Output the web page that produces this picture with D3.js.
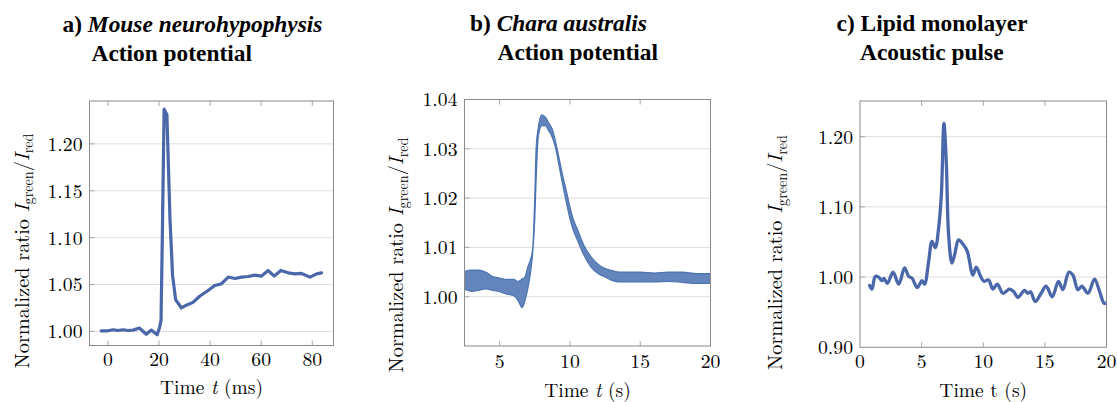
<!DOCTYPE html>
<html>
<head>
<meta charset="utf-8">
<script src="https://cdn.jsdelivr.net/npm/d3@7"></script>
<style>
  html, body { margin: 0; padding: 0; background: #fff; }
  svg { display: block; }
</style>
</head>
<body>
<svg id="chart" width="1117" height="402" font-family="'Latin Modern Roman', 'Liberation Serif', serif"></svg>
<script>
// ---------------- data ----------------
// a) Mouse neurohypophysis, action potential
const aTime  = [-2.6, 0, 2, 3.9, 5.9, 7.8, 9.8, 12.4, 15, 17, 19.3, 20.3, 20.8, 21.3, 22.0, 23.1, 24.3, 25.3, 26.5, 28.8, 30.7, 33.3, 35.9, 39.2, 41.8, 44.4, 47.1, 49.7, 52.3, 54.9, 57.5, 60.1, 62.7, 65.1, 67.7, 70.6, 73.2, 75.8, 79.1, 81.7, 83.6];
const aRatio = [1.0007, 1.0007, 1.0018, 1.001, 1.0018, 1.001, 1.0014, 1.0036, 0.997, 1.0014, 0.9964, 1.005, 1.012, 1.10, 1.237, 1.231, 1.12, 1.06, 1.034, 1.025, 1.028, 1.031, 1.0375, 1.0436, 1.049, 1.0507, 1.058, 1.0564, 1.0579, 1.0586, 1.060, 1.059, 1.065, 1.059, 1.065, 1.0625, 1.0614, 1.0618, 1.0579, 1.0614, 1.0625];
const aXTicks = [0, 20, 40, 60, 80];
const aYTicks = [1.00, 1.05, 1.10, 1.15, 1.20];

// b) Chara australis, action potential (noisy trace: lower / upper envelope)
const bTime  = [2.5, 2.6, 3.0, 3.5, 4.0, 4.5, 5.0, 5.5, 6.0, 6.3, 6.6, 6.8, 7.0, 7.2, 7.35, 7.5, 7.6, 7.75, 8.0, 8.25, 8.5, 8.75, 9.0, 9.25, 9.5, 9.75, 10.0, 10.25, 10.5, 11.0, 11.5, 12.0, 12.5, 13.0, 13.5, 14.0, 15.0, 16.0, 17.0, 18.0, 19.0, 20.0];
const bUpper = [1.0048, 1.0052, 1.0054, 1.0054, 1.0050, 1.0041, 1.0038, 1.0035, 1.0035, 1.0031, 1.0036, 1.0040, 1.0060, 1.0076, 1.0097, 1.0203, 1.0303, 1.0343, 1.0369, 1.0364, 1.0352, 1.0339, 1.0312, 1.0278, 1.0244, 1.0214, 1.0182, 1.0156, 1.0139, 1.0104, 1.0081, 1.0066, 1.0057, 1.0053, 1.0050, 1.0050, 1.0050, 1.0048, 1.0050, 1.0050, 1.0047, 1.0047];
const bLower = [1.0015, 1.0014, 1.0011, 1.0013, 1.0016, 1.0013, 1.0010, 1.0005, 1.0002, 0.9993, 0.9978, 0.9992, 1.0016, 1.0049, 1.0088, 1.0157, 1.0240, 1.0325, 1.0347, 1.0347, 1.0336, 1.0323, 1.0299, 1.0262, 1.0225, 1.0191, 1.0158, 1.0134, 1.0117, 1.0084, 1.0060, 1.0047, 1.0040, 1.0033, 1.0030, 1.0030, 1.0030, 1.0030, 1.0031, 1.0029, 1.0027, 1.0027];
const bXTicks = [5, 10, 15, 20];
const bYTicks = [1.00, 1.01, 1.02, 1.03, 1.04];

// c) Lipid monolayer, acoustic pulse
const cTime  = [0.78, 0.97, 1.24, 1.51, 1.78, 1.95, 2.22, 2.68, 3.14, 3.62, 3.95, 4.22, 4.65, 5.03, 5.24, 5.57, 5.84, 6.11, 6.38, 6.6, 6.81, 7.0, 7.19, 7.46, 7.68, 8.0, 8.35, 8.7, 9.16, 9.43, 9.79, 10.05, 10.43, 10.78, 11.14, 11.6, 12.14, 12.49, 12.81, 13.35, 13.62, 13.84, 14.22, 14.7, 15.1, 15.6, 16.1, 16.46, 16.95, 17.27, 17.68, 18.0, 18.49, 19.03, 19.43, 19.79, 19.98];
const cRatio = [0.988, 0.983, 1.001, 1.000, 0.995, 0.998, 0.991, 1.007, 0.990, 1.013, 1.001, 0.9986, 0.985, 0.995, 0.990, 1.022, 1.051, 1.042, 1.070, 1.117, 1.219, 1.164, 1.060, 1.020, 1.032, 1.053, 1.047, 1.037, 1.003, 1.014, 1.001, 0.994, 0.996, 0.983, 0.990, 0.977, 0.983, 0.979, 0.971, 0.981, 0.977, 0.979, 0.965, 0.977, 0.987, 0.972, 0.994, 0.982, 1.007, 1.003, 0.982, 0.987, 0.977, 0.997, 0.980, 0.963, 0.963];
const cXTicks = [0, 5, 10, 15, 20];
const cYTicks = [0.90, 1.00, 1.10, 1.20];

// ---------------- drawing ----------------
const svg = d3.select("#chart");
const FRAME = "#8a8a8a", GRID = "#dedede", TICK = "#a8a8a8";
const TICKFS = 19.7, XTFS = 19.5, YTFS = 20.3, YSUB = 14.2, TITLEFS = 23.4;
const TITLEFONT = "'Liberation Serif', 'Times New Roman', serif";

function drawPanel(p) {
  const x = d3.scaleLinear().domain(p.xDomain).range([p.left, p.right]);
  const y = d3.scaleLinear().domain(p.yDomain).range([p.bottom, p.top]);
  const g = svg.append("g");
  const inY = p.yTicks.filter(v => y(v) > p.top + 1 && y(v) < p.bottom - 1);
  const inX = p.xTicks.filter(v => x(v) > p.left + 1 && x(v) < p.right - 1);

  g.selectAll(".grid").data(inY).enter().append("line")
    .attr("x1", p.left).attr("x2", p.right)
    .attr("y1", d => y(d)).attr("y2", d => y(d))
    .attr("stroke", GRID).attr("stroke-width", 1);

  g.selectAll(".xtb").data(inX).enter().append("line")
    .attr("x1", d => x(d)).attr("x2", d => x(d))
    .attr("y1", p.bottom).attr("y2", p.bottom - 5)
    .attr("stroke", TICK).attr("stroke-width", 1);
  g.selectAll(".xtt").data(inX).enter().append("line")
    .attr("x1", d => x(d)).attr("x2", d => x(d))
    .attr("y1", p.top).attr("y2", p.top + 5)
    .attr("stroke", TICK).attr("stroke-width", 1);
  g.selectAll(".ytl").data(inY).enter().append("line")
    .attr("x1", p.left).attr("x2", p.left + 5)
    .attr("y1", d => y(d)).attr("y2", d => y(d))
    .attr("stroke", TICK).attr("stroke-width", 1);

  const clipId = "clip" + p.id;
  svg.append("clipPath").attr("id", clipId).append("rect")
    .attr("x", p.left).attr("y", p.top).attr("width", p.right - p.left).attr("height", p.bottom - p.top);
  const dg = g.append("g").attr("clip-path", `url(#${clipId})`);
  if (p.band) {
    const pts = p.band.t.map((t, i) => ({ t, lo: p.band.lo[i], hi: p.band.hi[i] }));
    dg.append("path").datum(pts)
      .attr("d", d3.area().x(d => x(d.t)).y0(d => y(d.lo)).y1(d => y(d.hi)).curve(d3.curveMonotoneX))
      .attr("fill", p.color).attr("fill-opacity", 0.88)
      .attr("stroke", p.color).attr("stroke-width", 1.2).attr("stroke-linejoin", "round");
  } else {
    const pts = p.t.map((t, i) => ({ t, v: p.v[i] }));
    dg.append("path").datum(pts)
      .attr("d", d3.line().x(d => x(d.t)).y(d => y(d.v)).curve(p.curve || d3.curveLinear))
      .attr("fill", "none").attr("stroke", p.color).attr("stroke-width", p.width)
      .attr("stroke-linejoin", "round").attr("stroke-linecap", "round");
  }

  g.append("rect").attr("x", p.left).attr("y", p.top)
    .attr("width", p.right - p.left).attr("height", p.bottom - p.top)
    .attr("fill", "none").attr("stroke", FRAME).attr("stroke-width", 1);

  g.selectAll(".xl").data(p.xTicks).enter().append("text")
    .attr("x", d => x(d)).attr("y", p.xLabelY)
    .attr("text-anchor", "middle").attr("font-size", TICKFS)
    .text(d => d3.format(p.xFmt)(d));
  g.selectAll(".yl").data(p.yTicks).enter().append("text")
    .attr("x", p.left - 7).attr("y", d => y(d)).attr("dy", "0.35em")
    .attr("text-anchor", "end").attr("font-size", TICKFS)
    .text(d => d3.format(p.yFmt)(d));

  const xt2 = g.append("text").attr("x", (p.left + p.right) / 2).attr("y", p.xTitleY)
    .attr("text-anchor", "middle").attr("font-size", XTFS);
  xt2.append("tspan").text("Time ");
  xt2.append("tspan").attr("font-style", p.tItalic ? "italic" : "normal").text("t");
  xt2.append("tspan").text(" (" + p.unit + ")");

  const yt = g.append("text")
    .attr("transform", `translate(${p.yTitleX},${p.yTitleY}) rotate(-90)`)
    .attr("text-anchor", "middle").attr("font-size", YTFS);
  yt.append("tspan").text("Normalized ratio ");
  yt.append("tspan").attr("font-style", "italic").text("I");
  yt.append("tspan").attr("font-size", YSUB).attr("dy", 4.5).text("green");
  yt.append("tspan").attr("dy", -4.5).text("/");
  yt.append("tspan").attr("font-style", "italic").text("I");
  yt.append("tspan").attr("font-size", YSUB).attr("dy", 4.5).text("red");

  const t1 = svg.append("text").attr("x", p.title1X).attr("y", p.title1Y)
    .attr("font-family", TITLEFONT).attr("font-size", TITLEFS).attr("font-weight", "bold");
  t1.append("tspan").text(p.title1[0]);
  t1.append("tspan").attr("font-style", p.title1Italic ? "italic" : "normal").text(p.title1[1]);
  svg.append("text").attr("x", p.title2X).attr("y", p.title2Y)
    .attr("font-family", TITLEFONT).attr("font-size", TITLEFS).attr("font-weight", "bold").text(p.title2);
}

drawPanel({
  id: "a", left: 89.5, right: 333.5, top: 101, bottom: 345.5,
  xDomain: [-7.2, 88.3], yDomain: [0.985, 1.2457],
  xTicks: aXTicks, yTicks: aYTicks, xFmt: "d", yFmt: ".2f",
  t: aTime, v: aRatio, color: "#4a67a9", width: 3.2,
  xLabelY: 366, xTitleY: 393.5, unit: "ms", tItalic: true,
  yTitleX: 28.5, yTitleY: 251,
  title1: ["a) ", "Mouse neurohypophysis"], title1Italic: true, title1X: 62.5, title1Y: 32,
  title2: "Action potential", title2X: 91.5, title2Y: 61
});

drawPanel({
  id: "b", left: 464.5, right: 710.5, top: 99.5, bottom: 346,
  xDomain: [2.5, 20], yDomain: [0.990, 1.04],
  xTicks: bXTicks, yTicks: bYTicks, xFmt: "d", yFmt: ".2f",
  band: { t: bTime, lo: bLower, hi: bUpper }, color: "#4d74b2",
  xLabelY: 367.5, xTitleY: 396.5, unit: "s", tItalic: true,
  yTitleX: 403, yTitleY: 255,
  title1: ["b) ", "Chara australis"], title1Italic: true, title1X: 470, title1Y: 31,
  title2: "Action potential", title2X: 497.5, title2Y: 60
});

drawPanel({
  id: "c", left: 860, right: 1106.5, top: 101, bottom: 347.3,
  xDomain: [0, 20], yDomain: [0.90, 1.2508],
  xTicks: cXTicks, yTicks: cYTicks, xFmt: "d", yFmt: ".2f",
  t: cTime, v: cRatio, color: "#4a67a9", width: 3.3, curve: d3.curveCatmullRom.alpha(0.5),
  xLabelY: 368, xTitleY: 396.5, unit: "s", tItalic: false,
  yTitleX: 782, yTitleY: 252.5,
  title1: ["c) ", "Lipid monolayer"], title1Italic: false, title1X: 836.5, title1Y: 31,
  title2: "Acoustic pulse", title2X: 860, title2Y: 60
});
</script>
</body>
</html>
